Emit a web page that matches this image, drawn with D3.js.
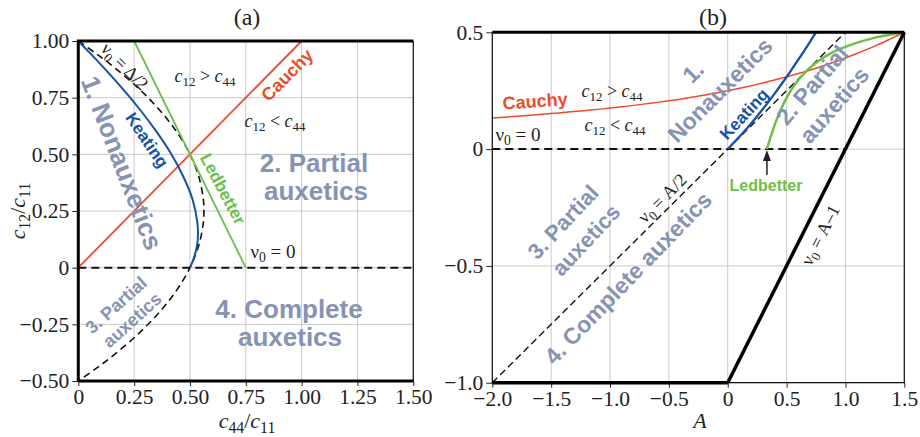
<!DOCTYPE html>
<html>
<head>
<meta charset="utf-8">
<script src="https://cdn.jsdelivr.net/npm/d3@7"></script>
<style>
  body { margin: 0; background: #fff; }
  svg text { font-family: "Liberation Serif", "Times New Roman", serif; fill: #222; white-space: pre; }
  svg text.lab { font-family: "Liberation Sans", Arial, sans-serif; font-weight: bold; }
</style>
</head>
<body>
<div id="chart"></div>
<script>
// ---- panel (a): c12/c11 against c44/c11 ----
const ticksAx = [0, 0.25, 0.5, 0.75, 1, 1.25, 1.5];
const ticksAy = [-0.5, -0.25, 0, 0.25, 0.5, 0.75, 1];
const labelsAx = ['0', '0.25', '0.50', '0.75', '1.00', '1.25', '1.50'];
const labelsAy = ['\u22120.50', '\u22120.25', '0', '0.25', '0.50', '0.75', '1.00'];

const cauchyA = [[0, 0], [1, 1]];
const ledbetterA = [[0.25, 1], [0.75, 0]];
const keatingA = [
  [0, 1], [0.049, 0.95], [0.097, 0.9], [0.189, 0.8], [0.274, 0.7], [0.35, 0.6],
  [0.417, 0.5], [0.471, 0.4], [0.512, 0.3], [0.533, 0.2], [0.536, 0.15],
  [0.532, 0.1], [0.52, 0.05], [0.5, 0]
];
const halfDeltaA = [
  [0, 1], [0.072, 0.95], [0.14, 0.9], [0.26, 0.8], [0.36, 0.7], [0.44, 0.6],
  [0.5, 0.5], [0.54, 0.4], [0.56, 0.3], [0.5625, 0.25], [0.56, 0.2], [0.54, 0.1],
  [0.5, 0], [0.44, -0.1], [0.36, -0.2], [0.26, -0.3], [0.14, -0.4], [0.072, -0.45], [0, -0.5]
];
const nuZeroA = [[0, 0], [1.5, 0]];

// ---- panel (b): nu0 against A ----
const ticksBx = [-2, -1.5, -1, -0.5, 0, 0.5, 1, 1.5];
const ticksBy = [-1, -0.5, 0, 0.5];
const labelsBx = ['\u22122.0', '\u22121.5', '\u22121.0', '\u22120.5', '0', '0.5', '1.0', '1.5'];
const labelsBy = ['\u22121.0', '\u22120.5', '0', '0.5'];

const cauchyB = [
  [-2, 0.133], [-1.849, 0.138], [-1.473, 0.153], [-1.167, 0.167], [-0.6, 0.2],
  [-0.205, 0.231], [0, 0.25], [0.321, 0.286], [0.667, 0.333], [0.917, 0.375],
  [1.109, 0.412], [1.264, 0.444], [1.392, 0.474], [1.5, 0.5]
];
const keatingB = [
  [0, 0], [0.168, 0.091], [0.292, 0.167], [0.389, 0.231], [0.468, 0.286],
  [0.533, 0.333], [0.589, 0.375], [0.638, 0.412], [0.68, 0.444], [0.717, 0.474], [0.75, 0.5]
];
const ledbetterB = [
  [0.333, 0], [0.39, 0.091], [0.449, 0.167], [0.513, 0.231], [0.584, 0.286],
  [0.667, 0.333], [0.764, 0.375], [0.882, 0.412], [1.032, 0.444], [1.228, 0.474],
  [1.352, 0.487], [1.5, 0.5]
];
const halfB = [[-2, -1], [1, 0.5]];
const nuZeroB = [[-2, 0], [1, 0]];
const aMinusOneB = [[0, -1], [1.5, 0.5]];
const bottomB = [[-2, -1], [0, -1]];

const red = '#ee4b2b';
const blue = '#1652a6';
const green = '#6cbf4a';
const grey = '#8793b3';

const svg = d3.select('#chart').append('svg').attr('width', 920).attr('height', 437);

const xa = d3.scaleLinear().domain([0, 1.5]).range([78.3, 413.3]);
const ya = d3.scaleLinear().domain([-0.5, 1]).range([381, 41]);
const xb = d3.scaleLinear().domain([-2, 1.5]).range([492.3, 904.3]);
const yb = d3.scaleLinear().domain([-1, 0.5]).range([382.7, 32.3]);

// text with italic / subscript pieces, centred on (cx, cy)
function rich(parts, cx, cy, size, rot, cls, color) {
  const t = svg.append('text')
    .attr('transform', `translate(${cx},${cy}) rotate(${rot || 0})`)
    .attr('y', size * 0.35)
    .attr('text-anchor', 'middle')
    .attr('font-size', size);
  if (cls) t.attr('class', cls);
  if (color) t.style('fill', color);
  let shift = 0;
  parts.forEach(([s, k]) => {
    const sp = t.append('tspan').text(s);
    const want = k === 's' ? size * 0.23 : 0;
    if (want !== shift) {
      sp.attr('dy', want - shift);
      shift = want;
    }
    if (k === 's') sp.attr('font-size', size * 0.72);
    if (k === 'i') sp.attr('font-style', 'italic');
  });
  return t;
}

function panel(x, y, tx, ty, lx, ly) {
  const g = svg.append('g');
  g.selectAll('.gx').data(tx).enter().append('line')
    .attr('x1', (d) => x(d)).attr('x2', (d) => x(d))
    .attr('y1', y.range()[0]).attr('y2', y.range()[1])
    .style('stroke', '#c9c9c9').style('stroke-width', 1);
  g.selectAll('.gy').data(ty).enter().append('line')
    .attr('y1', (d) => y(d)).attr('y2', (d) => y(d))
    .attr('x1', x.range()[0]).attr('x2', x.range()[1])
    .style('stroke', '#c9c9c9').style('stroke-width', 1);

  const ax = g.append('g')
    .attr('transform', `translate(0,${y.range()[0]})`)
    .call(d3.axisBottom(x).tickValues(tx).tickSize(5).tickPadding(3).tickFormat((d, i) => lx[i]));
  const ay = g.append('g')
    .attr('transform', `translate(${x.range()[0]},0)`)
    .call(d3.axisLeft(y).tickValues(ty).tickSize(6).tickPadding(3).tickFormat((d, i) => ly[i]));
  [ax, ay].forEach((a) => {
    a.select('.domain').remove();
    a.selectAll('text').style('font-family', '"Liberation Serif", serif').style('font-size', '21.5px').style('fill', '#222');
    a.selectAll('line').style('stroke', '#222');
  });
  ax.selectAll('text').attr('dy', '0.7em');
  return g;
}

panel(xa, ya, ticksAx, ticksAy, labelsAx, labelsAy);
panel(xb, yb, ticksBx, ticksBy, labelsBx, labelsBy);

const lineA = d3.line().x((d) => xa(d[0])).y((d) => ya(d[1])).curve(d3.curveCatmullRom);
const lineB = d3.line().x((d) => xb(d[0])).y((d) => yb(d[1])).curve(d3.curveCatmullRom);
const edgeA = d3.line().x((d) => xa(d[0])).y((d) => ya(d[1]));
const edgeB = d3.line().x((d) => xb(d[0])).y((d) => yb(d[1]));

function draw(gen, data, color, width, dash) {
  const p = svg.append('path').attr('d', gen(data))
    .style('fill', 'none').style('stroke', color).style('stroke-width', width);
  if (dash) p.style('stroke-dasharray', dash);
  return p;
}

// panel (a) curves
draw(edgeA, nuZeroA, '#111', 2, '8,5');
draw(lineA, halfDeltaA, '#111', 1.6, '7,4.5');
draw(edgeA, cauchyA, red, 1.8);
draw(edgeA, ledbetterA, green, 1.8);
draw(lineA, keatingA, blue, 2);

// panel (a) frame
draw(edgeA, [[1.5, 1], [1.5, -0.5]], '#111', 1.2);
draw(edgeA, [[0, -0.5], [0, 1], [1.5, 1]], '#000', 3);
draw(edgeA, [[0, -0.5], [1.5, -0.5]], '#000', 3);

// panel (b) curves
draw(edgeB, nuZeroB, '#111', 2, '8,5');
draw(edgeB, halfB, '#111', 1.4, '7,4');
draw(lineB, cauchyB, red, 1.5);
draw(lineB, ledbetterB, green, 2.5);
draw(lineB, keatingB, blue, 2.3);

// panel (b) frame
draw(edgeB, [[-2, 0.5], [-2, -1], [1.5, -1], [1.5, 0.5]], '#111', 1.2);
draw(edgeB, [[-2, 0.5], [1.5, 0.5]], '#000', 3);
draw(edgeB, bottomB, '#000', 3.5);
draw(edgeB, aMinusOneB, '#000', 3.5);

// Ledbetter arrow in (b)
const ax0 = xb(ledbetterB[0][0]);
const ay0 = yb(ledbetterB[0][1]);
svg.append('line').attr('x1', ax0).attr('x2', ax0).attr('y1', ay0 + 26).attr('y2', ay0 + 8)
  .style('stroke', '#222').style('stroke-width', 1.5);
svg.append('path').attr('d', `M${ax0},${ay0 + 1}L${ax0 - 4},${ay0 + 12}L${ax0 + 4},${ay0 + 12}Z`)
  .style('fill', '#222');

// titles and axis labels
rich([['(a)', '']], 247, 17, 24);
rich([['(b)', '']], 713, 17, 24);
rich([['c', 'i'], ['44', 's'], ['/', ''], ['c', 'i'], ['11', 's']], 247, 420, 22);
rich([['c', 'i'], ['12', 's'], ['/', ''], ['c', 'i'], ['11', 's']], 17, 211, 22, -90);
rich([['A', 'i']], 700, 420, 22);

// panel (a) annotations
rich([['c', 'i'], ['12', 's'], [' > ', ''], ['c', 'i'], ['44', 's']], 205, 76, 18);
rich([['c', 'i'], ['12', 's'], [' < ', ''], ['c', 'i'], ['44', 's']], 275, 121, 18);
rich([['\u03bd', ''], ['0', 's'], [' = 0', '']], 273, 251, 19);
rich([['\u03bd', ''], ['0', 's'], [' = \u0394/2', '']], 125, 66, 18, 45);
rich([['Cauchy', '']], 287, 75, 18, -45, 'lab', red);
rich([['Keating', '']], 147, 140, 17, 56, 'lab', blue);
rich([['Ledbetter', '']], 223, 189, 17, 62, 'lab', green);
rich([['1. Nonauxetics', '']], 122, 163, 26, 69, 'lab', grey);
rich([['2. Partial', '']], 314, 163, 26, 0, 'lab', grey);
rich([['auxetics', '']], 316, 191, 26, 0, 'lab', grey);
rich([['4. Complete', '']], 289, 309, 26, 0, 'lab', grey);
rich([['auxetics', '']], 290, 337, 26, 0, 'lab', grey);
rich([['3. Partial', '']], 116, 305, 18, -42, 'lab', grey);
rich([['auxetics', '']], 132, 320, 18, -42, 'lab', grey);

// panel (b) annotations
rich([['Cauchy', '']], 535, 101, 18, -4, 'lab', red);
rich([['c', 'i'], ['12', 's'], [' > ', ''], ['c', 'i'], ['44', 's']], 612, 91, 18);
rich([['c', 'i'], ['12', 's'], [' < ', ''], ['c', 'i'], ['44', 's']], 615, 125, 18);
rich([['\u03bd', ''], ['0', 's'], [' = 0', '']], 518, 134, 19);
rich([['1.', '']], 693, 72, 23, -45, 'lab', grey);
rich([['Nonauxetics', '']], 720, 90, 23, -45, 'lab', grey);
rich([['Keating', '']], 744, 114, 17, -47, 'lab', blue);
rich([['2. Partial', '']], 812, 85, 23, -49, 'lab', grey);
rich([['auxetics', '']], 834, 105, 23, -49, 'lab', grey);
rich([['Ledbetter', '']], 766, 185, 16, 0, 'lab', green);
rich([['\u03bd', ''], ['0', 's'], [' = A/2', '']], 662, 198, 18, -45);
rich([['\u03bd', ''], ['0', 's'], [' = A\u20131', '']], 820, 235, 18, -63);
rich([['3. Partial', '']], 563, 222, 22, -47, 'lab', grey);
rich([['auxetics', '']], 586, 240, 22, -47, 'lab', grey);
rich([['4. Complete auxetics', '']], 628, 278, 23, -46, 'lab', grey);
</script>
</body>
</html>
